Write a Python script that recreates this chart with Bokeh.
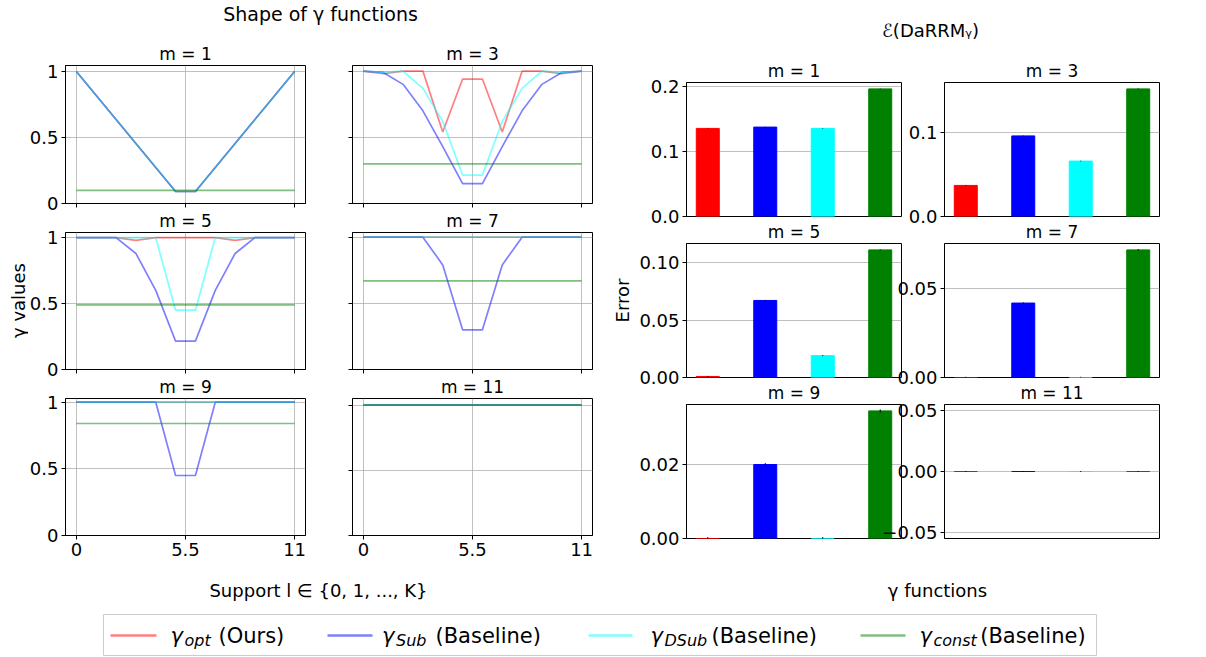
import numpy as np
from bokeh.plotting import figure
from bokeh.layouts import row, column
from bokeh.models import Range1d, FixedTicker, CustomJSTickFormatter, ColumnDataSource
from bokeh.core.properties import value
from bokeh.embed import file_html
from bokeh.resources import INLINE

FONT = "DejaVu Sans"

# ---------------- data ----------------
support = [0, 1, 2, 3, 4, 5, 6, 7, 8, 9, 10, 11]
m_values = [1, 3, 5, 7, 9, 11]

gamma_opt = [
    [1.0, 0.818, 0.636, 0.455, 0.273, 0.091, 0.091, 0.273, 0.455, 0.636, 0.818, 1.0],
    [1.0, 0.98, 1.0, 1.0, 0.54, 0.94, 0.94, 0.54, 1.0, 1.0, 0.98, 1.0],
    [1.0, 1.0, 1.0, 0.98, 1.0, 1.0, 1.0, 1.0, 0.98, 1.0, 1.0, 1.0],
    [1.0, 1.0, 1.0, 1.0, 1.0, 1.0, 1.0, 1.0, 1.0, 1.0, 1.0, 1.0],
    [1.0, 1.0, 1.0, 1.0, 1.0, 1.0, 1.0, 1.0, 1.0, 1.0, 1.0, 1.0],
    [1.0, 1.0, 1.0, 1.0, 1.0, 1.0, 1.0, 1.0, 1.0, 1.0, 1.0, 1.0],
]
gamma_sub = [
    [1.0, 0.818, 0.636, 0.455, 0.273, 0.091, 0.091, 0.273, 0.455, 0.636, 0.818, 1.0],
    [1.0, 0.99, 0.9, 0.7, 0.43, 0.15, 0.15, 0.43, 0.7, 0.9, 0.99, 1.0],
    [1.0, 1.0, 1.0, 0.88, 0.6, 0.215, 0.215, 0.6, 0.88, 1.0, 1.0, 1.0],
    [1.0, 1.0, 1.0, 1.0, 0.79, 0.3, 0.3, 0.79, 1.0, 1.0, 1.0, 1.0],
    [1.0, 1.0, 1.0, 1.0, 1.0, 0.45, 0.45, 1.0, 1.0, 1.0, 1.0, 1.0],
    [1.0, 1.0, 1.0, 1.0, 1.0, 1.0, 1.0, 1.0, 1.0, 1.0, 1.0, 1.0],
]
gamma_dsub = [
    [1.0, 0.818, 0.636, 0.455, 0.273, 0.091, 0.091, 0.273, 0.455, 0.636, 0.818, 1.0],
    [1.0, 0.99, 1.0, 0.87, 0.62, 0.215, 0.215, 0.62, 0.87, 1.0, 0.99, 1.0],
    [1.0, 1.0, 1.0, 1.0, 1.0, 0.45, 0.45, 1.0, 1.0, 1.0, 1.0, 1.0],
    [1.0, 1.0, 1.0, 1.0, 1.0, 1.0, 1.0, 1.0, 1.0, 1.0, 1.0, 1.0],
    [1.0, 1.0, 1.0, 1.0, 1.0, 1.0, 1.0, 1.0, 1.0, 1.0, 1.0, 1.0],
    [1.0, 1.0, 1.0, 1.0, 1.0, 1.0, 1.0, 1.0, 1.0, 1.0, 1.0, 1.0],
]
gamma_const = [0.1, 0.3, 0.49, 0.67, 0.84, 1.0]

# error E(DaRRM_gamma) per m, for each gamma function
err_opt = [0.136, 0.037, 0.0009, 0.0, 0.0, 0.0]
err_sub = [0.138, 0.096, 0.067, 0.042, 0.020, 0.0]
err_dsub = [0.136, 0.066, 0.019, 0.0, 0.0, 0.0]
err_const = [0.197, 0.152, 0.111, 0.072, 0.0345, 0.0]
err_sd = [0.0004, 0.0004, 0.0004, 0.0004]

method_colors = ["red", "blue", "cyan", "green"]
method_subs = ["opt", "Sub", "DSub", "const"]
method_tags = ["(Ours)", "(Baseline)", "(Baseline)", "(Baseline)"]
bar_positions = [0, 1, 2, 3]

support_ticks = [0, 5.5, 11]
gamma_ticks = [0, 0.5, 1]
bar_ticks = [[0, 0.1, 0.2], [0, 0.1], [0, 0.05, 0.1], [0, 0.05], [0, 0.02], [-0.05, 0, 0.05]]
bar_digits = [1, 1, 2, 2, 2, 2]

# ---------------- layout constants (pixels) ----------------
STRIP_L_W, L_SHIFT = 28, -10
L_W, L_LB, L_RB = [310, 287], [47, 24], [23, 23]
L_H, L_TB, L_BB = [178, 175, 195], [27, 24, 24], [13, 13, 33]
L_VSHIFT, HEAD_L_H = -9, 38

STRIP_R_W, R_STRIP_SHIFT, R_PANEL_SHIFT = 34, -10, -9
R_W, R_LB, R_RB = [292, 295], [56, 70], [21, 10]
R_SHIFT = -48
R_H, R_TB, R_BB = [181, 170, 189], [36, 25, 25], [11, 11, 30]
R_VSHIFT, HEAD_R_H = -9, 46
GRID_H = 568


def style_axes(p):
    p.outline_line_color = "black"
    p.outline_line_alpha = 1
    p.outline_line_width = 1
    p.background_fill_color = "white"
    p.border_fill_color = None
    for ax in p.axis:
        ax.axis_line_color = "black"
        ax.major_tick_line_color = "black"
        ax.major_tick_in = 0
        ax.major_tick_out = 4
        ax.minor_tick_line_color = None
        ax.major_label_text_font = FONT
        ax.major_label_text_font_size = "18px"
        ax.major_label_text_color = "black"
        ax.major_label_standoff = 3
    p.grid.grid_line_color = "#b0b0b0"
    p.grid.grid_line_width = 1
    p.grid.grid_line_alpha = 0.8


def style_title(p):
    t = p.title
    t.align = "center"
    t.text_font = FONT
    t.text_font_size = "17px"
    t.text_font_style = "normal"
    t.text_color = "black"
    if "standoff" in t.properties():
        t.standoff = 3


def hide_labels(ax):
    ax.major_label_text_color = None
    ax.major_label_text_font_size = "1px"
    ax.major_label_standoff = 0


def canvas_fig(w, h):
    p = figure(width=w, height=h, x_range=Range1d(0, w), y_range=Range1d(h, 0),
               output_backend="svg", toolbar_location=None, min_border=0,
               x_axis_type=None, y_axis_type=None)
    p.outline_line_color = None
    p.background_fill_color = None
    p.border_fill_color = None
    return p


def txt(p, x, y, s, size="18px", align="center", style="normal", angle=0.0):
    p.text(x=[x], y=[y], text=[s], angle=angle, text_align=align, text_baseline="middle",
           text_font=value(FONT), text_font_size=size, text_font_style=style,
           text_color="black")


# ---------------- gamma shape panels ----------------
figs_L = [[None, None] for _ in range(3)]
for i, m in enumerate(m_values):
    r, c = divmod(i, 2)
    series = [gamma_opt[i], gamma_sub[i], gamma_dsub[i], [gamma_const[i]] * len(support)]
    allv = [v for s in series for v in s]
    hi, lo = max(allv), min(allv)
    y_end = hi + 0.05 * (hi - lo) if hi > lo else hi * 1.05
    span = support[-1] - support[0]
    p = figure(width=L_W[c], height=L_H[r], title=f"m = {m}",
               x_range=Range1d(support[0] - 0.05 * span, support[-1] + 0.05 * span),
               y_range=Range1d(0, y_end),
               output_backend="svg", toolbar_location=None,
               min_border_left=L_LB[c], min_border_right=L_RB[c],
               min_border_top=L_TB[r], min_border_bottom=L_BB[r])
    for s, col in zip(series, method_colors):
        p.line(support, s, line_color=col, line_alpha=0.5, line_width=1.7)
    p.xaxis.ticker = FixedTicker(ticks=support_ticks)
    p.yaxis.ticker = FixedTicker(ticks=gamma_ticks)
    style_axes(p)
    style_title(p)
    if c == 1:
        hide_labels(p.yaxis[0])
    if r < 2:
        hide_labels(p.xaxis[0])
    figs_L[r][c] = p

# ---------------- error bar panels ----------------
figs_R = [[None, None] for _ in range(3)]
for i, m in enumerate(m_values):
    r, c = divmod(i, 2)
    vals = [err_opt[i], err_sub[i], err_dsub[i], err_const[i]]
    hi = max(vals)
    yr = Range1d(0, hi * 1.05) if hi > 0 else Range1d(-0.055, 0.055)
    bw = 0.4
    bspan = (bar_positions[-1] + bw / 2) - (bar_positions[0] - bw / 2)
    xr = Range1d(bar_positions[0] - bw / 2 - 0.05 * bspan, bar_positions[-1] + bw / 2 + 0.05 * bspan)
    p = figure(width=R_W[c], height=R_H[r], title=f"m = {m}", x_range=xr, y_range=yr,
               x_axis_location=None, output_backend="svg", toolbar_location=None,
               min_border_left=R_LB[c], min_border_right=R_RB[c],
               min_border_top=R_TB[r], min_border_bottom=R_BB[r])
    src = ColumnDataSource(dict(x=bar_positions, top=vals, color=method_colors,
                                lo=[v - s for v, s in zip(vals, err_sd)],
                                hi=[v + s for v, s in zip(vals, err_sd)]))
    p.vbar(x="x", top="top", width=bw, fill_color="color", line_color="color",
           line_width=1, source=src)
    p.segment(x0="x", y0="lo", x1="x", y1="hi", line_color="black", line_width=1, source=src)
    p.yaxis.ticker = FixedTicker(ticks=bar_ticks[i])
    p.yaxis.formatter = CustomJSTickFormatter(
        args=dict(d=bar_digits[i]),
        code="return tick.toFixed(d).replace('-', '\\u2212');")
    style_axes(p)
    p.xgrid.grid_line_color = None
    style_title(p)
    if c == 1:
        p.margin = (0, 0, 0, R_SHIFT)
    figs_R[r][c] = p

# ---------------- text strips ----------------
LEFT_W = L_W[0] + L_W[1]
headerL = canvas_fig(LEFT_W, HEAD_L_H)
txt(headerL, 320 - (STRIP_L_W + L_SHIFT), 13, "Shape of γ functions", size="19px")

RIGHT_W = R_W[0] + R_W[1] + R_SHIFT
STRIP_R_X0 = STRIP_L_W + L_SHIFT + LEFT_W + R_STRIP_SHIFT
R_X0 = STRIP_R_X0 + STRIP_R_W + R_PANEL_SHIFT
headerR = canvas_fig(RIGHT_W, HEAD_R_H)
txt(headerR, 930 - R_X0, 30, "ℰ(DaRRMᵧ)", size="18px")

stripL = canvas_fig(STRIP_L_W, GRID_H)
txt(stripL, 18, 300, "γ values", angle=np.pi / 2)
stripR = canvas_fig(STRIP_R_W, GRID_H)
stripR.margin = (0, 0, 0, R_STRIP_SHIFT)
txt(stripR, 622 - STRIP_R_X0, 300, "Error", angle=np.pi / 2)

TOTAL_W = R_X0 + RIGHT_W
footer = canvas_fig(TOTAL_W, 36)
txt(footer, 318, 22, "Support l ∈ {0, 1, ..., K}")
txt(footer, 937, 22, "γ functions")

# ---------------- legend ----------------
legend = canvas_fig(TOTAL_W, 52)
legend.quad(left=[103], right=[1096], top=[10], bottom=[51], fill_color="white",
            line_color="#cccccc", line_width=1)
leg_line_x = [(110, 156), (327, 372), (588, 632), (860, 905)]
leg_gamma_x = [170, 381.5, 650, 919]
leg_tag_x = [218, 435, 711, 979.7]
leg_y = 31
for (x0, x1), gx, tx, col, sub, tag in zip(leg_line_x, leg_gamma_x, leg_tag_x, method_colors,
                                           method_subs, method_tags):
    legend.line([x0, x1], [leg_y, leg_y], line_color=col, line_alpha=0.5, line_width=2.5)
    txt(legend, gx, leg_y, "γ", size="21px", align="left", style="italic")
    txt(legend, gx + 14, leg_y + 5, sub, size="16px", align="left", style="italic")
    txt(legend, tx, leg_y, tag, size="21px", align="left")

rows_L = []
for r in range(3):
    rr = row(figs_L[r][0], figs_L[r][1])
    if r > 0:
        rr.margin = (L_VSHIFT, 0, 0, 0)
    rows_L.append(rr)
rows_R = []
for r in range(3):
    rr = row(figs_R[r][0], figs_R[r][1])
    if r > 0:
        rr.margin = (R_VSHIFT, 0, 0, 0)
    rows_R.append(rr)

left_panel = column(headerL, *rows_L)
left_panel.margin = (0, 0, 0, L_SHIFT)
right_panel = column(headerR, *rows_R)
right_panel.margin = (0, 0, 0, R_PANEL_SHIFT)
top = row(stripL, left_panel, stripR, right_panel)
page = column(top, footer, legend)

open("out.html", "w").write(file_html(page, INLINE))
